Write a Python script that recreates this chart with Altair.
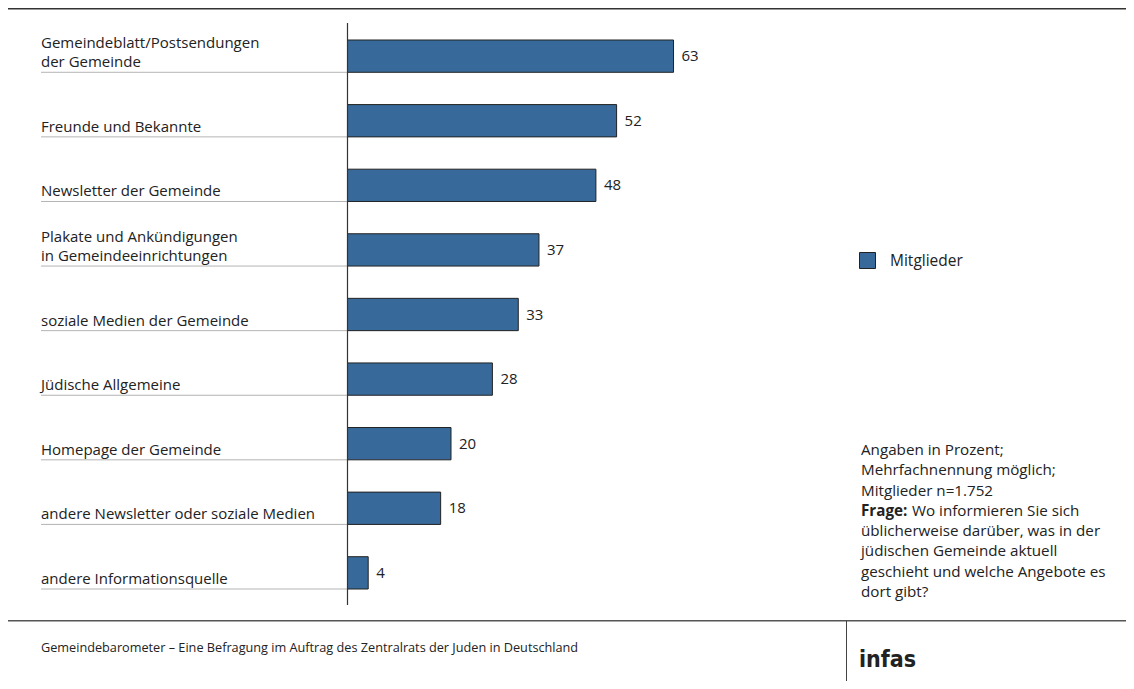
import altair as alt
import pandas as pd

# ---------------- data ----------------
categories = [
    "Gemeindeblatt/Postsendungen\nder Gemeinde",
    "Freunde und Bekannte",
    "Newsletter der Gemeinde",
    "Plakate und Ankündigungen\nin Gemeindeeinrichtungen",
    "soziale Medien der Gemeinde",
    "Jüdische Allgemeine",
    "Homepage der Gemeinde",
    "andere Newsletter oder soziale Medien",
    "andere Informationsquelle",
]
values = [63, 52, 48, 37, 33, 28, 20, 18, 4]
series_name = "Mitglieder"

note_top = "Angaben in Prozent;\nMehrfachnennung möglich;\nMitglieder n=1.752"
note_bold = "Frage:"
note_line4 = "Wo informieren Sie sich"
note_rest = "üblicherweise darüber, was in der\njüdischen Gemeinde aktuell\ngeschieht und welche Angebote es\ndort gibt?"
footer_text = "Gemeindebarometer – Eine Befragung im Auftrag des Zentralrats der Juden in Deutschland"
brand_text = "infas"

# ---------------- style ----------------
FONT = "Open Sans"
TXT = "#222222"
BAR = "#376a9a"
W, H = 1118, 673
LBL = 15
LH = 19

last_lines = [c.split("\n")[-1] for c in categories]
prev_lines = [c.split("\n")[-2] if "\n" in c else "" for c in categories]

df = pd.DataFrame({
    "cat": categories, "val": values, "series": [series_name] * len(values),
    "last": last_lines, "prev": prev_lines,
})

xscale = alt.Scale(domain=[0, 100], range=[339.5, 857])
yscale = alt.Scale(domain=categories, range=[32, 581], paddingInner=0.5, paddingOuter=0)

base = alt.Chart(df)
Yband = lambda bp: alt.Y("cat:N", scale=yscale, axis=None, sort=None, bandPosition=bp)

bars = base.mark_bar(stroke="#222222", strokeWidth=1).encode(
    x=alt.X("val:Q", scale=xscale, axis=None),
    y=alt.Y("cat:N", scale=yscale, axis=None, sort=None),
    color=alt.Color(
        "series:N",
        scale=alt.Scale(range=[BAR]),
        legend=alt.Legend(
            orient="none", legendX=851, legendY=244, title=None,
            symbolType="square", symbolSize=256, symbolStrokeColor="#222222",
            symbolStrokeWidth=1, symbolFillColor=BAR, labelFont=FONT, labelFontSize=15.5,
            labelColor=TXT, labelOffset=14, padding=0,
        ),
    ),
)

value_labels = base.mark_text(
    font=FONT, fontSize=15, color=TXT, align="left", baseline="middle", dx=8
).encode(
    x=alt.X("val:Q", scale=xscale, axis=None),
    y=Yband(0.5),
    text=alt.Text("val:Q"),
)

cat_last = base.mark_text(
    font=FONT, fontSize=LBL, color=TXT, align="left", baseline="alphabetic", dy=-5,
).encode(x=alt.value(33), y=Yband(1), text=alt.Text("last:N"))

cat_prev = base.mark_text(
    font=FONT, fontSize=LBL, color=TXT, align="left", baseline="alphabetic", dy=-5 - LH,
).encode(x=alt.value(33), y=Yband(1), text=alt.Text("prev:N"))

sep_lines = base.mark_rule(color="#b4b4b4", strokeWidth=1).encode(
    x=alt.value(33), x2=alt.value(339), y=Yband(1),
)

axis_line = alt.Chart(pd.DataFrame({"z": [0]})).mark_rule(color="#333333", strokeWidth=1.2).encode(
    x=alt.X("z:Q", scale=xscale, axis=None),
    y=alt.value(15), y2=alt.value(597),
)

one = pd.DataFrame({"a": [1]})
top_line = alt.Chart(one).mark_rule(color="#333333", strokeWidth=1.5).encode(
    x=alt.value(0), x2=alt.value(1126), y=alt.value(0.8)
)
bottom_line = alt.Chart(one).mark_rule(color="#555555", strokeWidth=1.5).encode(
    x=alt.value(0), x2=alt.value(1126), y=alt.value(612.7)
)
footer_vline = alt.Chart(one).mark_rule(color="#444444", strokeWidth=1).encode(
    x=alt.value(838.5), y=alt.value(612.7), y2=alt.value(673)
)

NOTE_FS = 15.2
NOTE_LH = 20.3

def note(text, x, y, bold=False):
    return alt.Chart(one).mark_text(
        font=FONT, fontSize=NOTE_FS, color=TXT, align="left", baseline="alphabetic",
        lineBreak="\n", lineHeight=NOTE_LH, fontWeight="bold" if bold else "normal",
    ).encode(x=alt.value(x), y=alt.value(y), text=alt.value(text))

notes = [
    note(note_top, 853, 447),
    note(note_bold, 853, 447 + 3 * NOTE_LH, bold=True),
    note(note_line4, 904, 447 + 3 * NOTE_LH),
    note(note_rest, 853, 447 + 4 * NOTE_LH),
]

footer = alt.Chart(one).mark_text(
    font=FONT, fontSize=12.7, color=TXT, align="left", baseline="alphabetic"
).encode(x=alt.value(33), y=alt.value(644), text=alt.value(footer_text))

brand = alt.Chart(one).mark_text(
    font="DejaVu Sans Condensed, Liberation Sans Narrow, Roboto", fontSize=23, fontWeight="bold",
    color="#222222", align="left", baseline="alphabetic"
).encode(x=alt.value(851), y=alt.value(659), text=alt.value(brand_text))

chart = alt.layer(
    top_line, sep_lines, bars, axis_line, value_labels, cat_last, cat_prev,
    *notes, bottom_line, footer_vline, footer, brand,
).properties(
    width=W, height=H, padding=0, autosize="none"
).configure_view(stroke=None)

chart.save("out.html", embed_options={"renderer": "svg", "actions": False})
